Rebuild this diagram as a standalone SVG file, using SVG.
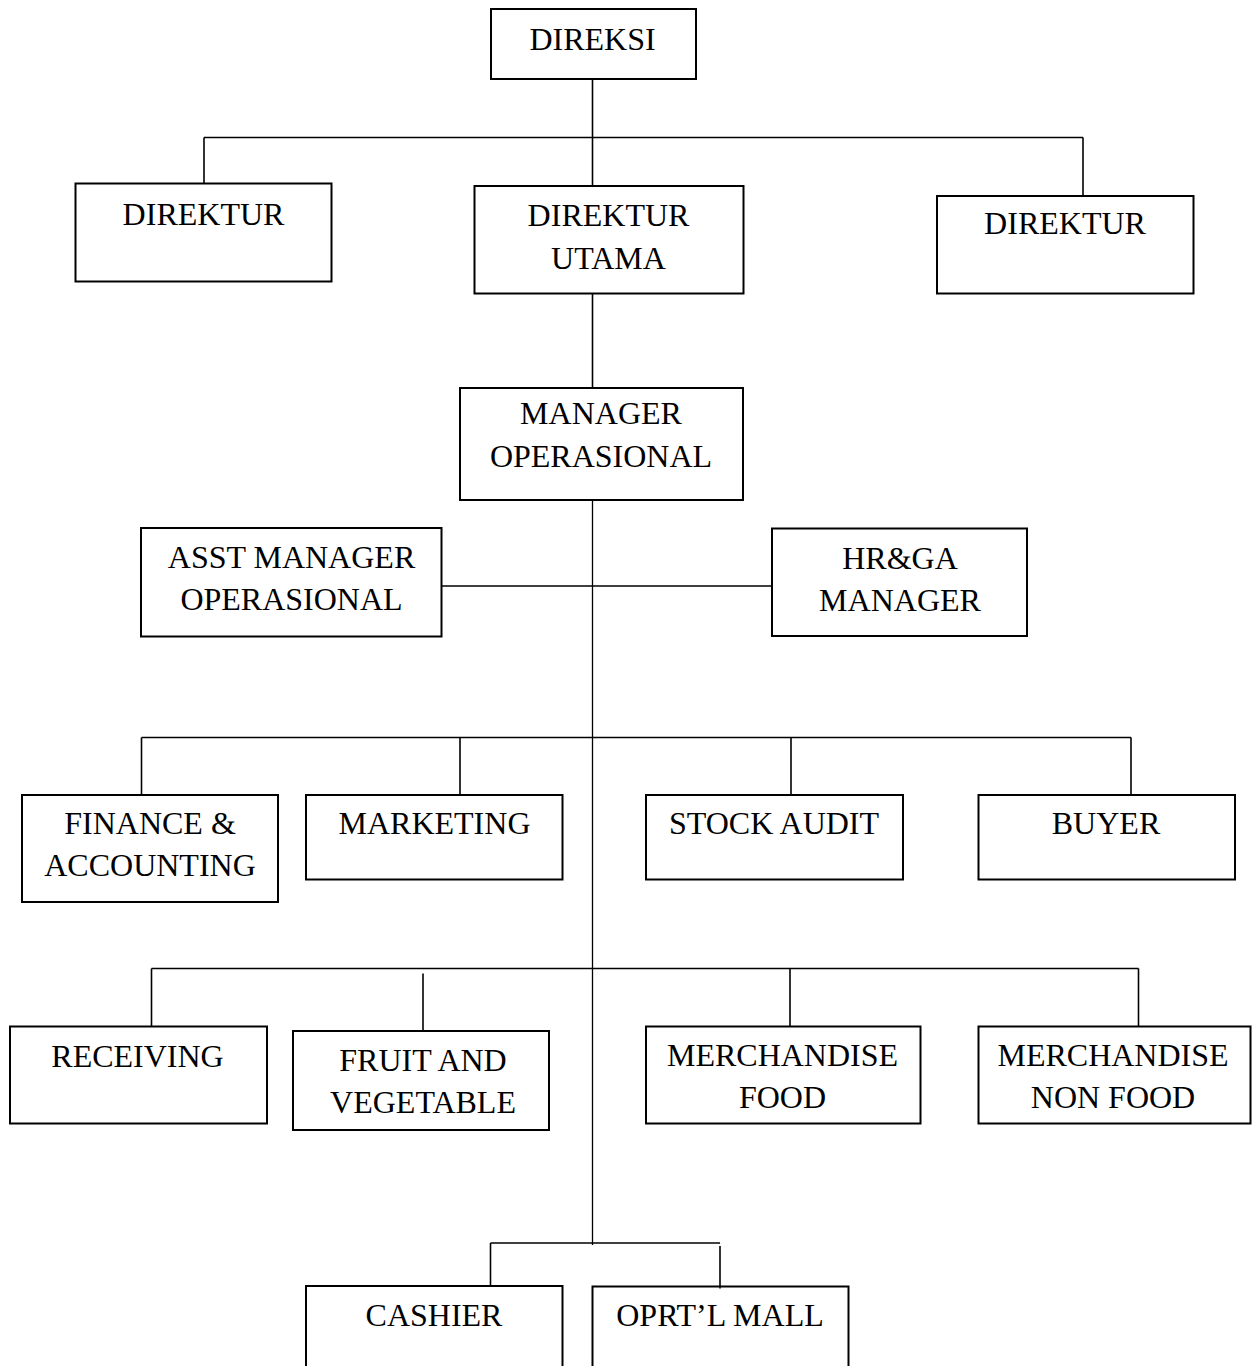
<svg xmlns="http://www.w3.org/2000/svg" width="1253" height="1366" viewBox="0 0 1253 1366">
<style>
.box{fill:#fff;stroke:#000;stroke-width:2}
.open{fill:none;stroke:#000;stroke-width:2}
.c{fill:none;stroke:#000;stroke-width:1.6}
.spine{fill:none;stroke:#000;stroke-width:1.3}
text{font-family:"Liberation Serif","Times New Roman",serif;font-size:32px;fill:#000;text-anchor:middle}
</style>
<rect width="1253" height="1366" fill="#fff"/>
<g id="connectors">
<line class="c" x1="592.5" y1="79" x2="592.5" y2="186"/>
<line class="c" x1="204" y1="137.5" x2="1083" y2="137.5"/>
<line class="c" x1="204" y1="137.5" x2="204" y2="183.5"/>
<line class="c" x1="1083" y1="137.5" x2="1083" y2="196"/>
<line class="c" x1="592.5" y1="293" x2="592.5" y2="388"/>
<line class="spine" x1="592.5" y1="500" x2="592.5" y2="1245"/>
<line class="c" x1="441.5" y1="586" x2="772" y2="586"/>
<line class="c" x1="141.5" y1="737.5" x2="1131" y2="737.5"/>
<line class="c" x1="141.5" y1="737.5" x2="141.5" y2="795"/>
<line class="c" x1="460" y1="737.5" x2="460" y2="795"/>
<line class="c" x1="791" y1="737.5" x2="791" y2="795"/>
<line class="c" x1="1131" y1="737.5" x2="1131" y2="795"/>
<line class="c" x1="151.5" y1="968.5" x2="1138.5" y2="968.5"/>
<line class="c" x1="151.5" y1="968.5" x2="151.5" y2="1026.5"/>
<line class="c" x1="423" y1="973.5" x2="423" y2="1031"/>
<line class="c" x1="790" y1="968.5" x2="790" y2="1026.5"/>
<line class="c" x1="1138.5" y1="968.5" x2="1138.5" y2="1026.5"/>
<line class="c" x1="490.5" y1="1243" x2="720" y2="1243"/>
<line class="c" x1="490.5" y1="1243" x2="490.5" y2="1286"/>
<line class="c" x1="720" y1="1246" x2="720" y2="1288.5"/>
</g>
<g id="direksi"><rect class="box" x="491" y="9" width="205" height="70"/><text x="592.5" y="50">DIREKSI</text></g>
<g id="direktur-kiri"><rect class="box" x="75.5" y="183.5" width="256" height="98"/><text x="203.5" y="225">DIREKTUR</text></g>
<g id="direktur-utama"><rect class="box" x="474.5" y="186" width="269" height="107.5"/><text x="608.5" y="225.5">DIREKTUR</text><text x="608.5" y="268.5">UTAMA</text></g>
<g id="direktur-kanan"><rect class="box" x="937" y="196" width="256.5" height="97.5"/><text x="1065" y="234">DIREKTUR</text></g>
<g id="manager-operasional"><rect class="box" x="460" y="388" width="283" height="112"/><text x="601" y="424">MANAGER</text><text x="601" y="467">OPERASIONAL</text></g>
<g id="asst-manager"><rect class="box" x="141" y="528" width="300.5" height="108.5"/><text x="291.5" y="568">ASST MANAGER</text><text x="291.5" y="610">OPERASIONAL</text></g>
<g id="hrga-manager"><rect class="box" x="772" y="528.5" width="255" height="107.5"/><text x="900" y="569">HR&amp;GA</text><text x="900" y="610.5">MANAGER</text></g>
<g id="finance"><rect class="box" x="22" y="795" width="256" height="107"/><text x="150" y="833.5">FINANCE &amp;</text><text x="150" y="876">ACCOUNTING</text></g>
<g id="marketing"><rect class="box" x="306" y="795" width="256.5" height="84.5"/><text x="434.5" y="833.5">MARKETING</text></g>
<g id="stock-audit"><rect class="box" x="646" y="795" width="257" height="84.5"/><text x="774" y="833.5">STOCK AUDIT</text></g>
<g id="buyer"><rect class="box" x="978.5" y="795" width="256.5" height="84.5"/><text x="1106" y="833.5">BUYER</text></g>
<g id="receiving"><rect class="box" x="10" y="1026.5" width="257" height="97"/><text x="137.5" y="1066.5">RECEIVING</text></g>
<g id="fruit-vegetable"><rect class="box" x="293" y="1031" width="256" height="99"/><text x="423" y="1070.5">FRUIT AND</text><text x="423" y="1112.5">VEGETABLE</text></g>
<g id="merchandise-food"><rect class="box" x="646" y="1026.5" width="274.5" height="97"/><text x="782.5" y="1066">MERCHANDISE</text><text x="782.5" y="1108">FOOD</text></g>
<g id="merchandise-non-food"><rect class="box" x="978.5" y="1026.5" width="272" height="97"/><text x="1113" y="1066">MERCHANDISE</text><text x="1113" y="1108">NON FOOD</text></g>
<g id="cashier"><path class="open" d="M306,1366 V1286 H562.5 V1366"/><text x="434" y="1326">CASHIER</text></g>
<g id="oprtl-mall"><path class="open" d="M592.5,1366 V1286.5 H848.5 V1366"/><text x="720" y="1326">OPRT’L MALL</text></g>
</svg>
